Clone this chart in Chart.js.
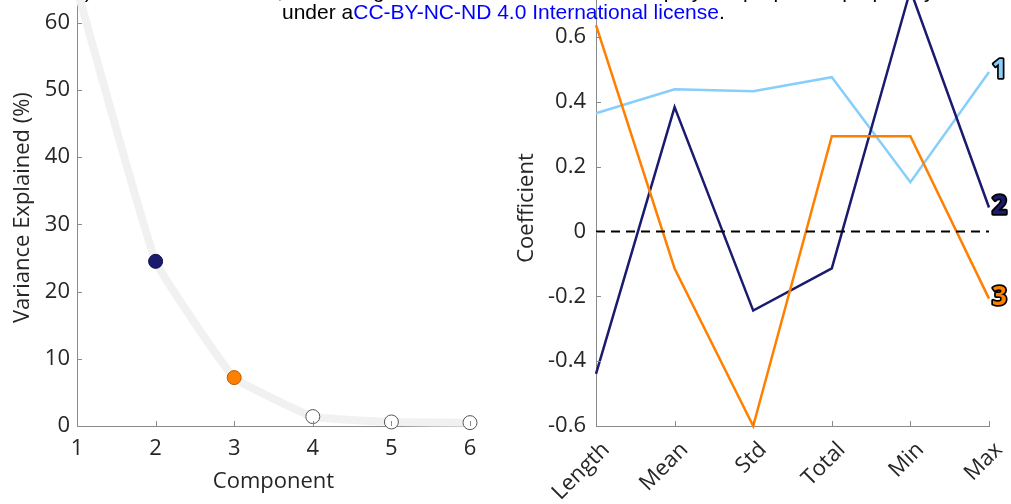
<!DOCTYPE html>
<html>
<head>
<meta charset="utf-8">
<script src="https://cdn.jsdelivr.net/npm/chart.js@4.4.1/dist/chart.umd.min.js"></script>
<style>
  html, body { margin: 0; padding: 0; background: #fff; }
  #page { position: relative; width: 1011px; height: 504px; overflow: hidden; }
  .box { position: absolute; }
  #leftBox { left: 0; top: -40px; width: 500px; height: 540px; }
  #rightBox { left: 500px; top: -40px; width: 511px; height: 544px; }
  .hdr { position: absolute; white-space: nowrap; font-family: "Liberation Sans", Arial, sans-serif;
         font-size: 21px; line-height: 21px; color: #000; }
  .lnk { color: #0000ff; }
</style>
</head>
<body>
<div id="page">
  <div class="box" id="leftBox"><canvas id="scree"></canvas></div>
  <div class="box" id="rightBox"><canvas id="coefs"></canvas></div>
  <div class="hdr" id="hdr2" style="top:-20px; left:0;"><span id="hdrPre">(which was not certified by peer review</span>) is the author/funder, who has granted bioRxiv a license to display the preprint in perpetuity. It is made available</div>
  <div class="hdr" id="hdr1" style="top:1px; left:282px;">under a<span class="lnk">CC-BY-NC-ND 4.0 International license</span>.</div>
</div>
<script>
// scree plot
const components = [1, 2, 3, 4, 5, 6];
const varianceExplained = [65.0, 24.5, 7.2, 1.4, 0.6, 0.5];
const varianceTicks = [0, 10, 20, 30, 40, 50, 60];

// PCA loadings
const features = ['Length', 'Mean', 'Std', 'Total', 'Min', 'Max'];
const pc1 = [0.365, 0.439, 0.433, 0.476, 0.152, 0.492];
const pc2 = [-0.439, 0.384, -0.244, -0.114, 0.745, 0.074];
const pc3 = [0.637, -0.114, -0.600, 0.294, 0.294, -0.207];
const zeroLine = [0, 0, 0, 0, 0, 0];
const coefTicks = [-0.6, -0.4, -0.2, 0, 0.2, 0.4, 0.6];
const seriesNames = ['1', '2', '3'];

const seriesColors = ['#87cefa', '#1a1a6e', '#ff8000'];
const markerFill = ['#87cefa', '#1a1a6e', '#ff8000', '#ffffff', '#ffffff', '#ffffff'];
const markerEdge = ['#4a90c0', '#0c0c40', '#b85c00', '#555555', '#555555', '#555555'];
const axisGray = '#8a8a8a';
const textDark = '#262626';
const FONT = '"Open Sans", "DejaVu Sans", sans-serif';

// line up the clipped header line so ")" sits at x=85
const pre = document.getElementById('hdrPre');
document.getElementById('hdr2').style.left = (85 - pre.offsetWidth) + 'px';

// MATLAB style: ticks pointing into the axes
const innerTicks = {
  id: 'innerTicks',
  afterDatasetsDraw(chart) {
    const { ctx, chartArea: a, scales: { x, y } } = chart;
    ctx.save();
    ctx.strokeStyle = axisGray;
    ctx.lineWidth = 1;
    ctx.beginPath();
    x.ticks.forEach((t, i) => {
      const px = Math.round(x.getPixelForTick(i)) + 0.5;
      ctx.moveTo(px, a.bottom);
      ctx.lineTo(px, a.bottom - 5);
    });
    y.ticks.forEach((t, i) => {
      const py = Math.round(y.getPixelForTick(i)) + 0.5;
      ctx.moveTo(a.left, py);
      ctx.lineTo(a.left + 5, py);
    });
    ctx.stroke();
    ctx.restore();
  }
};

// outlined component numbers at the end of each line
const endLabels = {
  id: 'endLabels',
  afterDatasetsDraw(chart) {
    const ctx = chart.ctx;
    ctx.save();
    ctx.font = 'bold 26px ' + FONT;
    ctx.textAlign = 'left';
    ctx.textBaseline = 'middle';
    ctx.lineJoin = 'round';
    ctx.lineWidth = 3.5;
    ctx.strokeStyle = '#000';
    seriesNames.forEach((name, i) => {
      const meta = chart.getDatasetMeta(i);
      const pt = meta.data[meta.data.length - 1];
      ctx.strokeText(name, pt.x + 3, pt.y - 1);
      ctx.fillStyle = seriesColors[i];
      ctx.fillText(name, pt.x + 3, pt.y - 1);
    });
    ctx.restore();
  }
};

function fixedWidth(w) { return s => { s.width = w; s.paddingTop = 0; s.paddingBottom = 0; }; }
function fixedHeight(h) { return s => { s.height = h; s.paddingLeft = 0; s.paddingRight = 0; }; }

const tickFont = { family: FONT, size: 22 };

new Chart(document.getElementById('scree'), {
  type: 'line',
  data: {
    datasets: [
      {
        data: components.map((c, i) => ({ x: c, y: varianceExplained[i] })),
        showLine: false,
        pointRadius: 7,
        pointBackgroundColor: markerFill,
        pointBorderColor: markerEdge,
        pointBorderWidth: 1,
        clip: false,
        order: 0
      },
      {
        data: components.map((c, i) => ({ x: c, y: varianceExplained[i] })),
        borderColor: '#f1f1f1',
        borderWidth: 8,
        pointRadius: 0,
        tension: 0.1,
        clip: false,
        order: 1
      }
    ]
  },
  options: {
    responsive: true,
    maintainAspectRatio: false,
    animation: false,
    layout: { padding: { top: 29.2, right: 30, bottom: 0, left: 0 } },
    plugins: { legend: { display: false }, tooltip: { enabled: false } },
    scales: {
      x: {
        type: 'linear',
        min: components[0],
        max: components[components.length - 1],
        afterBuildTicks: s => { s.ticks = components.map(v => ({ value: v })); },
        afterFit: fixedHeight(74),
        grid: { display: false, drawTicks: false },
        border: { display: true, color: axisGray, width: 1 },
        ticks: { color: textDark, font: tickFont, padding: 10, maxRotation: 0, callback: v => String(v) },
        title: { display: true, text: 'Component', color: textDark, font: tickFont, padding: { top: 0, bottom: 5 } }
      },
      y: {
        min: 0,
        max: Math.max(...varianceExplained),
        afterBuildTicks: s => { s.ticks = varianceTicks.map(v => ({ value: v })); },
        afterFit: fixedWidth(77),
        grid: { display: false, drawTicks: false },
        border: { display: true, color: axisGray, width: 1 },
        ticks: { color: textDark, font: tickFont, padding: 7, callback: v => String(v) },
        title: { display: true, text: 'Variance Explained (%)', color: textDark, font: tickFont, padding: { top: 9.5, bottom: 0 } }
      }
    }
  },
  plugins: [innerTicks]
});

const allCoefs = pc1.concat(pc2, pc3);

new Chart(document.getElementById('coefs'), {
  type: 'line',
  data: {
    labels: features,
    datasets: [
      { data: pc1, borderColor: seriesColors[0], borderWidth: 2.5, pointRadius: 0, clip: false, order: 3 },
      { data: pc2, borderColor: seriesColors[1], borderWidth: 2.5, pointRadius: 0, clip: false, order: 2 },
      { data: pc3, borderColor: seriesColors[2], borderWidth: 2.5, pointRadius: 0, clip: false, order: 1 },
      { data: zeroLine, borderColor: '#000', borderWidth: 2, borderDash: [9, 6], pointRadius: 0, clip: false, order: 0 }
    ]
  },
  options: {
    responsive: true,
    maintainAspectRatio: false,
    animation: false,
    layout: { padding: { top: 30, right: 22, bottom: 0, left: 0 } },
    plugins: { legend: { display: false }, tooltip: { enabled: false } },
    scales: {
      x: {
        afterFit: fixedHeight(78),
        grid: { display: false, drawTicks: false },
        border: { display: true, color: axisGray, width: 1 },
        ticks: { color: textDark, font: tickFont, padding: 11, labelOffset: 10, autoSkip: false, minRotation: 45, maxRotation: 45 }
      },
      y: {
        min: Math.min(...allCoefs),
        max: Math.max(...allCoefs),
        afterBuildTicks: s => { s.ticks = coefTicks.map(v => ({ value: v })); },
        afterFit: fixedWidth(96),
        grid: { display: false, drawTicks: false },
        border: { display: true, color: axisGray, width: 1 },
        ticks: { color: textDark, font: tickFont, padding: 10, callback: v => String(v) },
        title: { display: true, text: 'Coefficient', color: textDark, font: tickFont, padding: { top: 13.5, bottom: 0 } }
      }
    }
  },
  plugins: [innerTicks, endLabels]
});
</script>
</body>
</html>
